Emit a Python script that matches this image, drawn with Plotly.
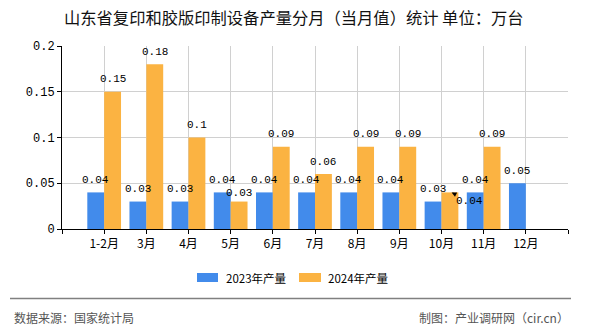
import plotly.graph_objects as go

# ---- data ----
categories = ["1-2月", "3月", "4月", "5月", "6月", "7月", "8月", "9月", "10月", "11月", "12月"]
prod_2023 = [0.04, 0.03, 0.03, 0.04, 0.04, 0.04, 0.04, 0.04, 0.03, 0.04, 0.05]
prod_2024 = [0.15, 0.18, 0.10, 0.03, 0.09, 0.06, 0.09, 0.09, 0.04, 0.09, None]
series_names = ["2023年产量", "2024年产量"]
title_text = "山东省复印和胶版印制设备产量分月（当月值）统计 单位：万台"
y_ticks = [0, 0.05, 0.1, 0.15, 0.2]
y_tick_labels = ["0", "0.05", "0.1", "0.15", "0.2"]
source_left = "数据来源：国家统计局"
source_right = "制图：产业调研网（cir.cn）"

# ---- style ----
W, H = 590, 330
L, R, T, B = 62, 568, 46, 229
BLUE = "#428BEB"
ORANGE = "#FBB342"
CJK = "Noto Sans CJK SC"
MONO = "Liberation Mono"

def px_x(px):
    return (px - L) / (R - L)

def px_y(py):
    return (B - py) / (B - T)

xpos = list(range(1, len(categories) + 1))

fig = go.Figure()
fig.add_trace(go.Bar(x=xpos, y=prod_2023, name=series_names[0], marker_color=BLUE,
                     marker_line_width=0, showlegend=False))
fig.add_trace(go.Bar(x=xpos, y=prod_2024, name=series_names[1], marker_color=ORANGE,
                     marker_line_width=0, showlegend=False))

annotations = []
# value labels
for k, (vals, off) in enumerate([(prod_2023, -0.2), (prod_2024, 0.2)]):
    for i, v in enumerate(vals):
        if v is None:
            continue
        txt = f"{v:g}"
        if k == 1 and categories[i] == "10月":
            annotations.append(dict(x=xpos[i] + off + 0.04, y=v, xref="x", yref="y", text=txt,
                                    showarrow=True, arrowhead=2, arrowsize=1, arrowwidth=1,
                                    arrowcolor="#000", ax=18, ay=9,
                                    font=dict(family=MONO, size=11, color="#000")))
            continue
        ys = 12.5
        if k == 1 and categories[i] == "5月":
            ys = 9
        annotations.append(dict(x=xpos[i] + off, y=v, xref="x", yref="y", text=txt,
                                showarrow=False, yanchor="middle", yshift=ys,
                                font=dict(family=MONO, size=11, color="#000")))

# title
annotations.append(dict(x=px_x(294), y=px_y(17), xref="paper", yref="paper", text=title_text,
                        showarrow=False, xanchor="center", yanchor="middle",
                        font=dict(family=CJK, size=16.3, color="#111")))

# legend (manual)
shapes = []
leg = [(197, 218, 224, BLUE, series_names[0]), (299, 321, 326, ORANGE, series_names[1])]
for x0, x1, tx, col, name in leg:
    shapes.append(dict(type="rect", xref="paper", yref="paper", x0=px_x(x0), x1=px_x(x1),
                       y0=px_y(282), y1=px_y(273), fillcolor=col, line_width=0))
    annotations.append(dict(x=px_x(tx), y=px_y(277.5), xref="paper", yref="paper", text=name,
                            showarrow=False, xanchor="left", yanchor="middle",
                            font=dict(family=CJK, size=11.5, color="#000")))

# footer
shapes.append(dict(type="line", xref="paper", yref="paper", x0=px_x(10), x1=px_x(571),
                   y0=px_y(298.5), y1=px_y(298.5), line=dict(color="#808080", width=1.5)))
annotations.append(dict(x=px_x(12), y=px_y(317), xref="paper", yref="paper", text=source_left,
                        showarrow=False, xanchor="left", yanchor="middle",
                        font=dict(family=CJK, size=12, color="#555")))
annotations.append(dict(x=px_x(571), y=px_y(317), xref="paper", yref="paper", text=source_right,
                        showarrow=False, xanchor="right", yanchor="middle",
                        font=dict(family=CJK, size=12, color="#555")))

fig.update_layout(
    width=W, height=H,
    margin=dict(l=L, r=W - R, t=T, b=H - B, pad=0),
    paper_bgcolor="white", plot_bgcolor="white",
    barmode="group", bargap=0.2, bargroupgap=0,
    showlegend=False,
    annotations=annotations, shapes=shapes,
    xaxis=dict(range=[0, 12], tickmode="array", tickvals=list(range(0, 13)),
               ticktext=[""] + categories + [""],
               showgrid=True, gridcolor="#d0d0d0", gridwidth=1,
               showline=True, linecolor="#000", linewidth=1,
               ticks="outside", ticklen=4, tickcolor="#000",
               tickfont=dict(family=CJK, size=12, color="#000"), zeroline=False),
    yaxis=dict(range=[0, 0.2], tickmode="array", tickvals=y_ticks, ticktext=y_tick_labels,
               showgrid=True, gridcolor="#d0d0d0", gridwidth=1,
               showline=True, linecolor="#000", linewidth=1,
               ticks="outside", ticklen=4, tickcolor="#000",
               tickfont=dict(family=MONO, size=12, color="#000"), zeroline=False),
)

fig.write_html("out.html")
